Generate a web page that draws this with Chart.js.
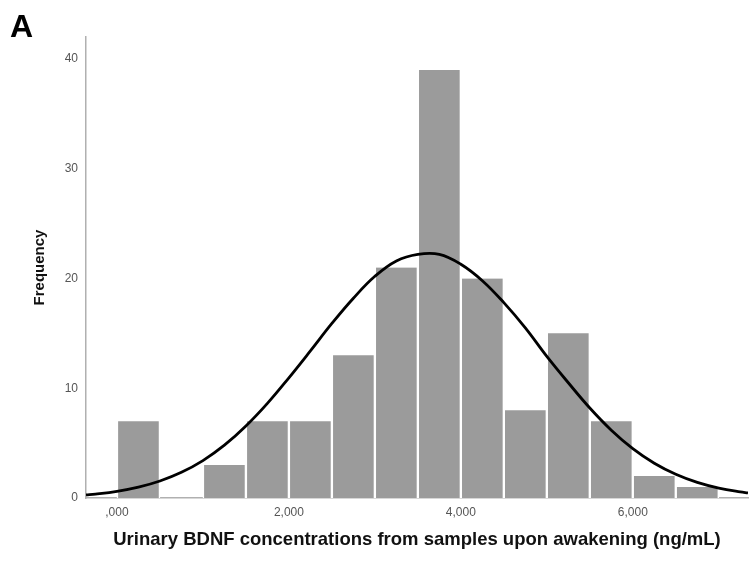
<!DOCTYPE html>
<html>
<head>
<meta charset="utf-8">
<script src="https://cdn.jsdelivr.net/npm/chart.js@4.4.1/dist/chart.umd.min.js"></script>
<style>
    body { margin: 0; background: #fff; }
    #wrap { position: relative; width: 750px; height: 563px; }
</style>
</head>
<body>
<div id="wrap"><canvas id="histChart"></canvas></div>
<script>
// histogram bins (ng/mL, width 0.5) and counts
const binCenters = [0.25, 0.75, 1.25, 1.75, 2.25, 2.75, 3.25, 3.75, 4.25, 4.75, 5.25, 5.75, 6.25, 6.75];
const binCounts = [7, 0, 3, 7, 7, 13, 21, 39, 20, 8, 15, 7, 2, 1];

// normal curve
const curveX = [-0.36, -0.25, 0, 0.25, 0.5, 0.75, 1, 1.25, 1.5, 1.75, 2, 2.25, 2.5, 2.75, 3, 3.25, 3.5, 3.75,
    4, 4.25, 4.5, 4.75, 5, 5.25, 5.5, 5.75, 6, 6.25, 6.5, 6.75, 7, 7.25, 7.34];
const curveY = [0.29, 0.36, 0.61, 0.99, 1.55, 2.34, 3.41, 4.81, 6.56, 8.62, 10.95, 13.4, 15.9, 18.2, 20.2, 21.6, 22.2, 22.2,
    21.3, 19.8, 17.8, 15.5, 12.9, 10.5, 8.2, 6.18, 4.5, 3.17, 2.16, 1.42, 0.9, 0.55, 0.47];

const xTicks = [0, 2, 4, 6];
const xTickLabels = [',000', '2,000', '4,000', '6,000'];
const yTicks = [0, 10, 20, 30, 40];

const fontFamily = "'Liberation Sans', Arial, sans-serif";

const panelLetter = {
    id: 'panelLetter',
    afterDraw(chart) {
        let ctx = chart.ctx;
        ctx.save();
        ctx.fillStyle = '#000';
        ctx.font = 'bold 32px ' + fontFamily;
        ctx.textAlign = 'left';
        ctx.textBaseline = 'alphabetic';
        ctx.fillText('A', 10, 37);
        ctx.restore();
    }
};

let ctx = document.getElementById('histChart').getContext('2d');

new Chart(ctx, {
    data: {
        datasets: [{
            type: 'line',
            data: curveX.map((x, i) => ({ x: x, y: curveY[i] })),
            borderColor: '#000',
            borderWidth: 2.8,
            pointRadius: 0,
            tension: 0.4,
            fill: false,
            order: 0
        }, {
            type: 'bar',
            data: binCenters.map((x, i) => ({ x: x, y: binCounts[i] })),
            backgroundColor: '#9b9b9b',
            borderColor: '#ffffff',
            borderWidth: { left: 1.5, right: 1.5, top: 0, bottom: 0 },
            borderSkipped: false,
            barPercentage: 1,
            categoryPercentage: 1,
            order: 1
        }]
    },
    options: {
        responsive: true,
        maintainAspectRatio: false,
        animation: false,
        layout: { padding: { top: 37, right: 2, left: 0, bottom: 0 } },
        plugins: {
            legend: { display: false },
            tooltip: { enabled: false }
        },
        scales: {
            x: {
                type: 'linear',
                offset: false,
                min: -0.36,
                max: 7.34,
                grid: { display: false, drawTicks: false },
                border: { display: true, color: '#b0b0b0', width: 1.5 },
                afterBuildTicks: (scale) => { scale.ticks = xTicks.map(v => ({ value: v })); },
                afterFit: (scale) => { scale.height = 65; },
                ticks: {
                    padding: 7,
                    color: '#555',
                    font: { family: fontFamily, size: 12 },
                    maxRotation: 0,
                    callback: (value) => xTickLabels[xTicks.indexOf(value)]
                },
                title: {
                    display: true,
                    text: 'Urinary BDNF concentrations from samples upon awakening (ng/mL)',
                    color: '#111',
                    font: { family: fontFamily, size: 18.5, weight: 'bold' },
                    padding: { bottom: 12 }
                }
            },
            y: {
                type: 'linear',
                min: 0,
                max: 42,
                grid: { display: false, drawTicks: false },
                border: { display: true, color: '#b0b0b0', width: 1.5 },
                afterBuildTicks: (scale) => { scale.ticks = yTicks.map(v => ({ value: v })); },
                afterFit: (scale) => { scale.width = 86; },
                ticks: {
                    padding: 8,
                    color: '#555',
                    font: { family: fontFamily, size: 12 }
                },
                title: {
                    display: true,
                    text: 'Frequency',
                    color: '#111',
                    font: { family: fontFamily, size: 15, weight: 'bold' },
                    padding: { top: 31 }
                }
            }
        }
    },
    plugins: [panelLetter]
});
</script>
</body>
</html>
